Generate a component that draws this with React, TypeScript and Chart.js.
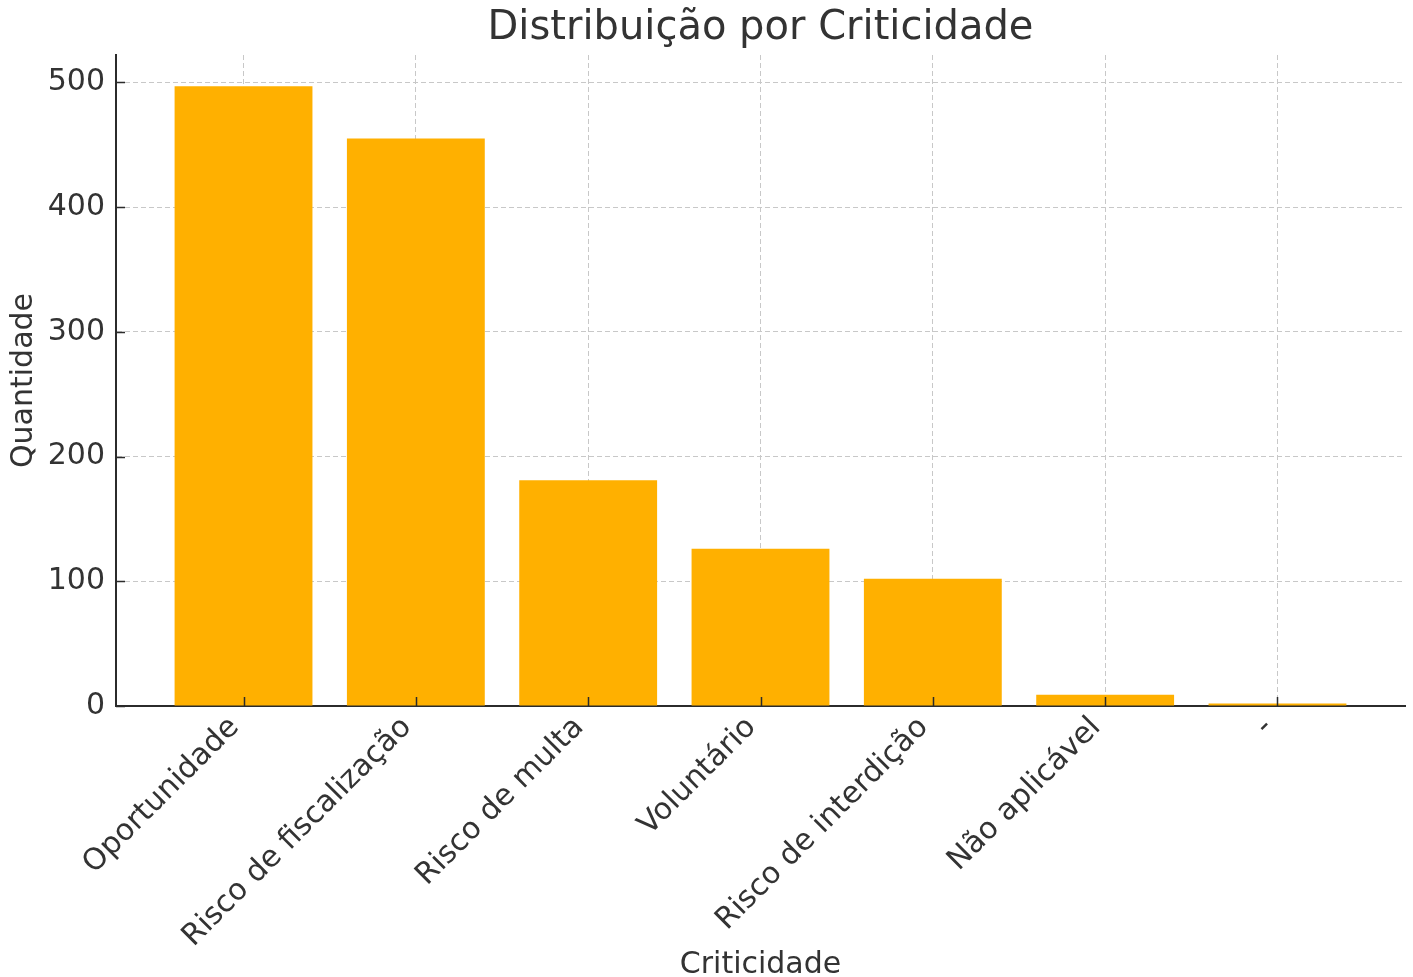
import React, { useEffect, useRef } from "react";
import { Chart, registerables } from "chart.js";

Chart.register(...registerables);

const categories = [
  "Oportunidade",
  "Risco de fiscalização",
  "Risco de multa",
  "Voluntário",
  "Risco de interdição",
  "Não aplicável",
  "-",
];
const counts = [497, 455, 181, 126, 102, 9, 2];
const yTicks = [0, 100, 200, 300, 400, 500];
const yMax = 522;
const xMin = -0.74;
const xMax = 6.74;

const TEXT = "#333333";
const AXIS = "#2b2b2b";
const GRID = "#c8c8c8";
const BAR = "#ffb000";
const FONT = "'DejaVu Sans', sans-serif";

const W = 1413;
const H = 977;

const innerTicks = {
  id: "innerTicks",
  afterDraw(chart: any) {
    const { ctx, chartArea, scales } = chart;
    const len = 9;
    ctx.save();
    ctx.strokeStyle = AXIS;
    ctx.lineWidth = 1.5;
    ctx.beginPath();
    for (const t of scales.y.ticks) {
      const py = Math.round(scales.y.getPixelForValue(t.value)) + 0.5;
      ctx.moveTo(chartArea.left, py);
      ctx.lineTo(chartArea.left + len, py);
    }
    for (const t of scales.x.ticks) {
      const px = Math.round(scales.x.getPixelForValue(t.value)) + 0.5;
      ctx.moveTo(px, chartArea.bottom);
      ctx.lineTo(px, chartArea.bottom - len);
    }
    ctx.stroke();
    ctx.restore();
  },
};

export default function App() {
  const ref = useRef<HTMLCanvasElement | null>(null);

  useEffect(() => {
    if (!ref.current) return;
    const chart = new Chart(ref.current, {
      type: "bar",
      data: {
        datasets: [
          {
            label: "Quantidade",
            data: counts.map((v, i) => ({ x: i, y: v })),
            backgroundColor: BAR,
            borderWidth: 0,
            barPercentage: 0.8,
            categoryPercentage: 1.0,
          },
        ],
      },
      options: {
        responsive: false,
        animation: false,
        devicePixelRatio: 1,
        layout: { padding: { top: 0, right: 8, bottom: 0, left: 0 } },
        plugins: {
          legend: { display: false },
          tooltip: { enabled: false },
          title: {
            display: true,
            text: "Distribuição por Criticidade",
            color: TEXT,
            fullSize: false,
            font: { family: FONT, size: 40, weight: "normal", lineHeight: 1.2 },
            padding: { top: 5, bottom: 2 },
          },
        },
        scales: {
          x: {
            type: "linear",
            min: xMin,
            max: xMax,
            offset: false,
            z: 1,
            afterBuildTicks: (s: any) => {
              s.ticks = categories.map((_, i) => ({ value: i }));
            },
            afterFit: (s: any) => {
              s.height = H - 706;
            },
            ticks: {
              autoSkip: false,
              minRotation: 45,
              maxRotation: 45,
              padding: 4,
              labelOffset: -9,
              color: TEXT,
              font: { family: FONT, size: 30 },
              callback: (v: any) => categories[v as number] ?? "",
            },
            grid: { color: GRID, lineWidth: 1, drawTicks: false, offset: false },
            border: { display: true, color: AXIS, width: 2, dash: [5, 3] },
            title: {
              display: true,
              text: "Criticidade",
              color: TEXT,
              font: { family: FONT, size: 30, lineHeight: 0.8 },
              padding: { top: 0, bottom: 0 },
            },
          },
          y: {
            type: "linear",
            min: 0,
            max: yMax,
            z: 1,
            afterBuildTicks: (s: any) => {
              s.ticks = yTicks.map((v) => ({ value: v }));
            },
            afterFit: (s: any) => {
              s.width = 116;
            },
            ticks: {
              padding: 11,
              color: TEXT,
              font: { family: FONT, size: 30 },
            },
            grid: { color: GRID, lineWidth: 1, drawTicks: false },
            border: { display: true, color: AXIS, width: 2, dash: [5, 3] },
            title: {
              display: true,
              text: "Quantidade",
              color: TEXT,
              font: { family: FONT, size: 30, lineHeight: 1 },
              padding: { top: 9, bottom: 0 },
            },
          },
        },
      },
      plugins: [innerTicks],
    });
    return () => chart.destroy();
  }, []);

  return (
    <div
      style={{
        position: "absolute",
        left: 0,
        top: 0,
        width: W,
        height: H,
        background: "#ffffff",
        overflow: "hidden",
      }}
    >
      <canvas ref={ref} width={W} height={H} style={{ width: W, height: H, display: "block" }} />
    </div>
  );
}
